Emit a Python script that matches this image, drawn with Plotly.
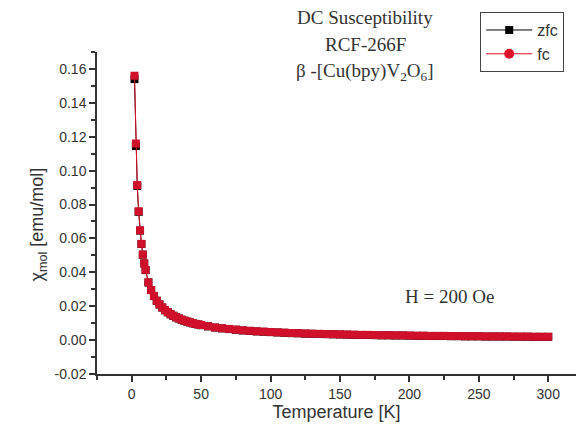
import plotly.graph_objects as go

T = [2, 3, 4, 5, 6, 7, 8, 9, 10, 12, 14, 16, 18, 20, 22, 24, 26, 28, 30, 32, 34, 36, 38, 40,
     42, 44, 46, 48, 50, 55, 60, 65, 70, 75, 80, 85, 90, 95, 100, 105, 110, 115, 120, 125,
     130, 135, 140, 145, 150, 155, 160, 165, 170, 175, 180, 185, 190, 195, 200, 205, 210,
     215, 220, 225, 230, 235, 240, 245, 250, 255, 260, 265, 270, 275, 280, 285, 290, 295, 300]
chi_zfc = [0.1540, 0.1145, 0.0910, 0.0757, 0.0646, 0.0567, 0.0504, 0.0452, 0.0413, 0.0340,
           0.0295, 0.0260, 0.0232, 0.0210, 0.0192, 0.0176, 0.0164, 0.0152, 0.0143, 0.0134,
           0.0127, 0.0120, 0.0114, 0.0109, 0.0104, 0.0099, 0.0095, 0.0092, 0.0088, 0.0081,
           0.0074, 0.0069, 0.0065, 0.0061, 0.0057, 0.0054, 0.0051, 0.0049, 0.0047, 0.0045,
           0.0043, 0.0041, 0.0040, 0.0038, 0.0037, 0.0036, 0.0035, 0.0034, 0.0033, 0.0032,
           0.0031, 0.0030, 0.0030, 0.0029, 0.0028, 0.0028, 0.0027, 0.0027, 0.0026, 0.0025,
           0.0025, 0.0024, 0.0024, 0.0024, 0.0023, 0.0023, 0.0022, 0.0022, 0.0022, 0.0021,
           0.0021, 0.0021, 0.0021, 0.0020, 0.0020, 0.0020, 0.0019, 0.0019, 0.0019]
chi_fc = [0.1560, 0.1160, 0.0915, 0.0760, 0.0648, 0.0568, 0.0505, 0.0453, 0.0414, 0.0341,
          0.0296, 0.0261, 0.0233, 0.0211, 0.0193, 0.0177, 0.0165, 0.0153, 0.0144, 0.0135,
          0.0128, 0.0121, 0.0115, 0.0110, 0.0105, 0.0100, 0.0096, 0.0093, 0.0089, 0.0082,
          0.0075, 0.0070, 0.0066, 0.0062, 0.0058, 0.0055, 0.0052, 0.0050, 0.0048, 0.0046,
          0.0044, 0.0042, 0.0041, 0.0039, 0.0038, 0.0037, 0.0036, 0.0035, 0.0034, 0.0033,
          0.0032, 0.0031, 0.0031, 0.0030, 0.0029, 0.0029, 0.0028, 0.0028, 0.0027, 0.0026,
          0.0026, 0.0025, 0.0025, 0.0025, 0.0024, 0.0024, 0.0023, 0.0023, 0.0023, 0.0022,
          0.0022, 0.0022, 0.0022, 0.0021, 0.0021, 0.0021, 0.0020, 0.0020, 0.0020]

y_ticks = [-0.02, 0.00, 0.02, 0.04, 0.06, 0.08, 0.10, 0.12, 0.14, 0.16]
y_tick_labels = ["-0.02", "0.00", "0.02", "0.04", "0.06", "0.08", "0.10", "0.12", "0.14", "0.16"]

fig = go.Figure()
fig.add_trace(go.Scatter(x=T, y=chi_zfc, mode="lines+markers", name="zfc",
                         line=dict(color="black", width=1),
                         marker=dict(symbol="square", size=8, color="black")))
fig.add_trace(go.Scatter(x=T, y=chi_fc, mode="lines+markers", name="fc", showlegend=False,
                         line=dict(color="#e0102a", width=1),
                         marker=dict(symbol="square", size=8, color="#d0102a")))
fig.add_trace(go.Scatter(x=[None], y=[None], mode="lines+markers", name="fc",
                         line=dict(color="#e0102a", width=1),
                         marker=dict(symbol="circle", size=10, color="#e0102a")))

axis_common = dict(showline=True, linecolor="#333", linewidth=1.5, ticks="outside",
                   ticklen=6, tickwidth=1.5, tickcolor="#333", showgrid=False, zeroline=False,
                   automargin=False,
                   tickfont=dict(family="Arial, Liberation Sans", size=14, color="#333"))

fig.update_xaxes(range=[-25, 320], dtick=50, tick0=0,
                 minor=dict(dtick=25, ticks="outside", ticklen=4, tickwidth=1.5, tickcolor="#333"),
                 title=dict(text="Temperature [K]", font=dict(family="Arial, Liberation Sans", size=18, color="#333"), standoff=4),
                 **axis_common)
fig.update_yaxes(range=[-0.02, 0.17], tickvals=y_ticks, ticktext=y_tick_labels,
                 minor=dict(tickvals=[v + 0.01 for v in y_ticks], ticks="outside", ticklen=4,
                            tickwidth=1.5, tickcolor="#333"),
                 **axis_common)

fig.add_annotation(x=-0.150, y=0.463, xref="paper", yref="paper", textangle=-90,
                   text="χ<sub>mol</sub> [emu/mol]", showarrow=False,
                   font=dict(family="Arial, Liberation Sans", size=18, color="#333"))

serif = dict(family="Liberation Serif, Times New Roman", size=19, color="#333")
fig.add_annotation(x=0.56, y=1.106, xref="paper", yref="paper", yanchor="middle",
                   text="DC Susceptibility", showarrow=False, font=serif)
fig.add_annotation(x=0.56, y=1.022, xref="paper", yref="paper", yanchor="middle",
                   text="RCF-266F", showarrow=False, font=serif)
fig.add_annotation(x=0.56, y=0.938, xref="paper", yref="paper", yanchor="middle",
                   text="β -[Cu(bpy)V<sub>2</sub>O<sub>6</sub>]", showarrow=False, font=serif)
fig.add_annotation(x=229, y=0.026, xref="x", yref="y",
                   text="H = 200 Oe", showarrow=False, font=serif)

fig.update_layout(
    width=576, height=427,
    margin=dict(l=97, r=0, t=52, b=53, autoexpand=False),
    paper_bgcolor="white", plot_bgcolor="white",
    legend=dict(x=0.800, y=1.124, xanchor="left", yanchor="top",
                bordercolor="#444", borderwidth=1, bgcolor="white",
                font=dict(family="Arial, Liberation Sans", size=16, color="#333"),
                itemwidth=46, tracegroupgap=0),
)

fig.write_html("out.html", config={"displayModeBar": False},
               post_script="document.body.style.margin='0';")
